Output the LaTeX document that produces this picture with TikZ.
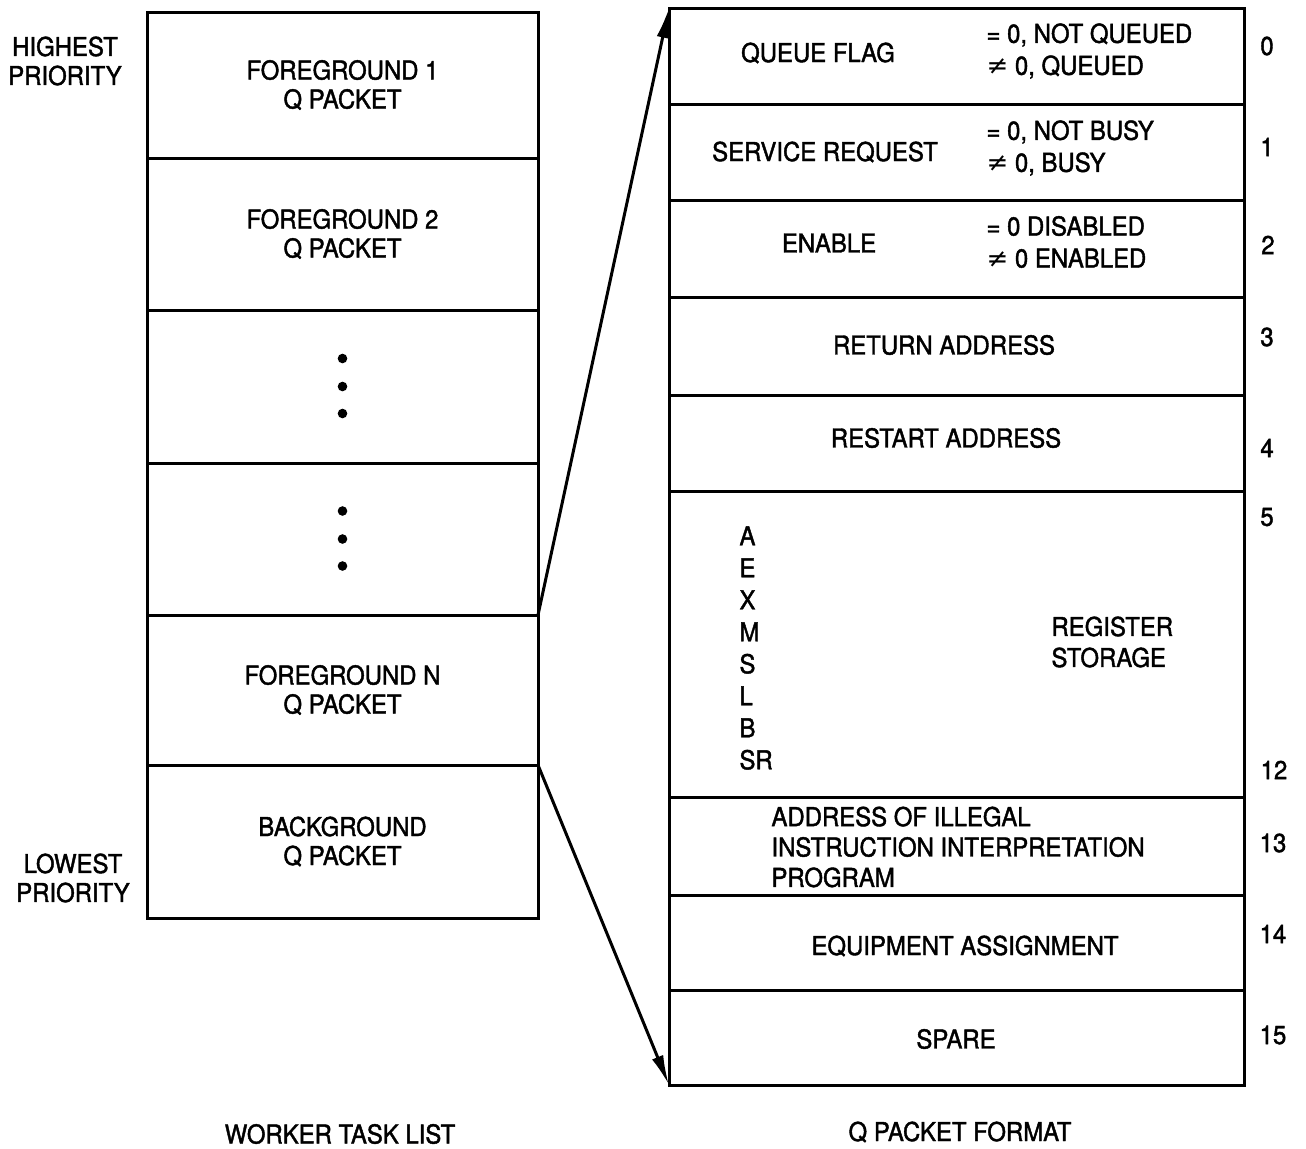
\documentclass[tikz,border=0pt]{standalone}
\usepackage{fontspec}
\setmainfont{TeX Gyre Heros}[FakeStretch=0.92,FakeBold=1.6]
\newfontfamily\symfont{DejaVu Sans}
\usetikzlibrary{positioning,arrows.meta}

\begin{document}
\begin{tikzpicture}[x=0.5pt,y=-0.5pt,line width=1.5pt,
            font=\fontsize{13}{14.5}\selectfont,
            lcell/.style={draw,rectangle,inner sep=0pt,outer sep=0pt,align=center,minimum width=195.5pt,minimum height=#1},
            rcell/.style={draw,rectangle,inner sep=0pt,outer sep=0pt,minimum width=287.5pt,minimum height=#1},
            txt/.style={inner sep=0pt,align=center},
            ltxt/.style={inner sep=0pt,align=left,anchor=west},
            vtxt/.style={ltxt,font=\fontsize{13}{16}\selectfont},
            num/.style={inner sep=0pt},
            arr/.style={line width=1.5pt,-{Latex[length=15pt,width=6pt]}}]
            \useasboundingbox (0,0) rectangle (1306,1148);

            % worker task list
            \node[lcell=73pt,anchor=north west] (fg1) at (147,12) {FOREGROUND 1\\Q PACKET};
            \node[lcell=76pt,below=0pt of fg1] (fg2) {FOREGROUND 2\\Q PACKET};
            \node[lcell=76.5pt,below=0pt of fg2] (dots1) {};
            \node[lcell=76pt,below=0pt of dots1] (dots2) {};
            \node[lcell=75pt,below=0pt of dots2] (fgN) {FOREGROUND N\\Q PACKET};
            \node[lcell=76.5pt,below=0pt of fgN] (bg) {BACKGROUND\\Q PACKET};
            \foreach \d in {-28,0,27} {
                \fill (dots1.center) ++(0,\d) circle (2.4pt);
                \fill (dots2.center) ++(0,\d) circle (2.4pt);
            }
            \node[txt] (high) at (65,61) {HIGHEST\\PRIORITY};
            \node[txt] (low) at (73,878) {LOWEST\\PRIORITY};
            \node[txt] (wtl) at (340,1134) {WORKER TASK LIST};

            % q packet format
            \node[rcell=48pt,anchor=north west] (qflag) at (669,8) {};
            \node[rcell=48pt,below=0pt of qflag] (sreq) {};
            \node[rcell=48.5pt,below=0pt of sreq] (enab) {};
            \node[rcell=49pt,below=0pt of enab] (retad) {};
            \node[rcell=48pt,below=0pt of retad] (rstad) {};
            \node[rcell=153pt,below=0pt of rstad] (regs) {};
            \node[rcell=49pt,below=0pt of regs] (illeg) {};
            \node[rcell=47.5pt,below=0pt of illeg] (equip) {};
            \node[rcell=47.5pt,below=0pt of equip] (spare) {};

            \node[txt] (qflagT) at (818,53) {QUEUE FLAG};
            \node[vtxt] (qflagV) at (985,51) {= 0, NOT QUEUED\\{\symfont ≠} 0, QUEUED};
            \node[txt] (sreqT) at (825,152) {SERVICE REQUEST};
            \node[vtxt] (sreqV) at (985,148) {= 0, NOT BUSY\\{\symfont ≠} 0, BUSY};
            \node[txt] (enabT) at (829,243) {ENABLE};
            \node[vtxt] (enabV) at (985,242) {= 0 DISABLED\\{\symfont ≠} 0 ENABLED};
            \node[txt] (retadT) at (944,345) {RETURN ADDRESS};
            \node[txt] (rstadT) at (946,438) {RESTART ADDRESS};
            \node[ltxt,font=\fontsize{13}{16}\selectfont] (regsL) at (738,648) {A\\E\\X\\M\\S\\L\\B\\SR};
            \node[ltxt,font=\fontsize{13}{15.5}\selectfont] (regsT) at (1050,642) {REGISTER\\STORAGE};
            \node[ltxt,font=\fontsize{13}{15.2}\selectfont] (illegT) at (770,847) {ADDRESS OF ILLEGAL\\INSTRUCTION INTERPRETATION\\PROGRAM};
            \node[txt] (equipT) at (965,946) {EQUIPMENT ASSIGNMENT};
            \node[txt] (spareT) at (956,1039) {SPARE};
            \node[txt] (qpf) at (960,1132) {Q PACKET FORMAT};

            \node[num] (n0) at (1267,46) {0};
            \node[num] (n1) at (1267,147) {1};
            \node[num] (n2) at (1268,245) {2};
            \node[num] (n3) at (1267,337) {3};
            \node[num] (n4) at (1267,448) {4};
            \node[num] (n5) at (1267,517) {5};
            \node[num] (n12) at (1274,770) {12};
            \node[num] (n13) at (1273,843) {13};
            \node[num] (n14) at (1273,934) {14};
            \node[num] (n15) at (1273,1035) {15};

            \draw[arr] (fgN.north east) -- (qflag.north west);
            \draw[arr] (bg.north east) -- (spare.south west);

        \end{tikzpicture}
\end{document}
